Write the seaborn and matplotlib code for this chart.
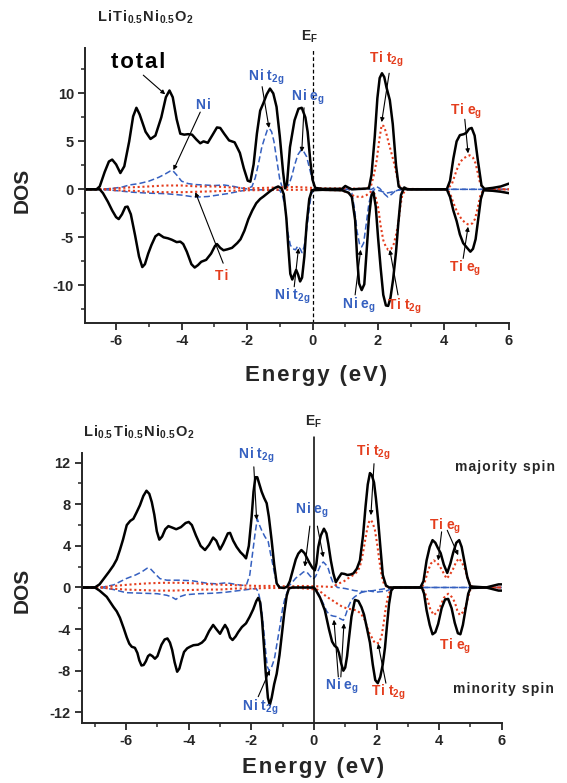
import matplotlib
matplotlib.use("Agg")
import matplotlib.pyplot as plt
from matplotlib.ticker import MultipleLocator
import pandas as pd
import seaborn as sns

# ---------------------------
# Data (energy in eV, DOS; minority spin negative)
# ---------------------------
# Panel (a): LiTi0.5Ni0.5O2
a_tot_up = [(-6.95, 0), (-6.6, 0), (-6.5, 0.3), (-6.35, 1.8), (-6.22, 2.9), (-6.12, 3.1), (-6.0, 2.6), (-5.87, 1.7),
            (-5.75, 2.4), (-5.6, 5.0), (-5.48, 7.6), (-5.38, 8.5), (-5.28, 7.8), (-5.1, 6.0), (-4.95, 5.25), (-4.8, 5.6),
            (-4.62, 7.5), (-4.48, 9.6), (-4.37, 10.3), (-4.27, 9.6), (-4.15, 7.3), (-4.04, 5.8), (-3.92, 5.7),
            (-3.8, 5.75), (-3.68, 5.7), (-3.55, 5.2), (-3.43, 4.8), (-3.33, 5.0), (-3.2, 4.85), (-3.05, 5.7),
            (-2.92, 6.45), (-2.82, 6.4), (-2.7, 5.8), (-2.55, 5.1), (-2.38, 4.9), (-2.22, 3.8), (-2.1, 2.2),
            (-1.98, 0.9), (-1.9, 0.8), (-1.8, 2.6), (-1.7, 5.8), (-1.6, 8.2), (-1.5, 9.0), (-1.4, 9.9), (-1.3, 10.5),
            (-1.2, 10.0), (-1.1, 8.6), (-1.0, 5.5), (-0.9, 1.8), (-0.84, 0.1), (-0.78, 0.6), (-0.69, 4.4),
            (-0.55, 7.2), (-0.43, 8.4), (-0.33, 8.5), (-0.22, 7.5), (-0.15, 6.0), (-0.07, 3.0), (0.0, 1.0),
            (0.08, 0.15), (0.3, 0.05), (0.9, 0.05), (1.0, 0.35), (1.08, 0.2), (1.2, 0.0), (1.72, 0.1), (1.8, 1.5),
            (1.9, 5.5), (1.98, 9.5), (2.05, 11.6), (2.12, 12.1), (2.19, 11.7), (2.26, 10.6), (2.36, 9.3),
            (2.45, 6.8), (2.55, 2.5), (2.63, 0.3), (2.72, 0.05), (3.0, 0.0), (4.1, 0.0), (4.2, 0.9), (4.3, 3.2),
            (4.4, 5.0), (4.5, 5.65), (4.62, 5.75), (4.7, 5.9), (4.78, 6.3), (4.86, 6.4), (4.95, 5.6), (5.05, 3.0),
            (5.16, 0.4), (5.25, 0.05), (5.5, 0.15), (5.75, 0.3), (6.0, 0.6)]
a_tot_dn = [(-6.95, 0), (-6.5, 0), (-6.4, -0.4), (-6.25, -1.3), (-6.12, -2.2), (-6.0, -2.9), (-5.92, -3.1),
            (-5.82, -2.6), (-5.72, -1.85), (-5.65, -1.8), (-5.55, -2.6), (-5.42, -4.8), (-5.3, -7.0), (-5.2, -8.1),
            (-5.12, -7.8), (-5.02, -6.7), (-4.92, -5.8), (-4.8, -4.9), (-4.7, -4.65), (-4.55, -5.0), (-4.42, -5.1),
            (-4.3, -5.25), (-4.15, -5.5), (-4.04, -5.45), (-3.95, -5.7), (-3.84, -6.5), (-3.7, -7.8), (-3.6, -8.15),
            (-3.5, -7.9), (-3.4, -7.55), (-3.25, -7.35), (-3.1, -6.7), (-2.98, -5.9), (-2.92, -5.7), (-2.82, -6.1),
            (-2.72, -6.35), (-2.6, -6.25), (-2.46, -6.1), (-2.3, -5.6), (-2.2, -5.2), (-2.08, -4.3), (-1.96, -3.1),
            (-1.84, -2.2), (-1.72, -1.45), (-1.6, -1.0), (-1.5, -0.75), (-1.3, -0.2), (-1.15, 0.15), (-1.05, 0.3),
            (-0.95, 0.1), (-0.88, -0.5), (-0.8, -3.0), (-0.74, -6.0), (-0.68, -8.8), (-0.62, -9.4), (-0.56, -8.9),
            (-0.5, -8.4), (-0.44, -8.9), (-0.38, -9.6), (-0.32, -9.2), (-0.25, -7.0), (-0.18, -3.6), (-0.1, -1.0),
            (-0.02, -0.1), (0.3, -0.05), (0.9, -0.1), (1.1, -0.35), (1.2, -0.8), (1.3, -3.2), (1.36, -7.0),
            (1.42, -9.8), (1.5, -10.5), (1.58, -9.9), (1.65, -6.5), (1.72, -3.0), (1.8, -0.6), (1.86, -0.3),
            (1.93, -1.8), (2.0, -5.0), (2.08, -8.2), (2.16, -11.0), (2.24, -12.1), (2.31, -12.15), (2.38, -11.3),
            (2.46, -9.4), (2.55, -6.5), (2.62, -3.5), (2.7, -0.6), (2.8, 0.2), (2.9, 0.0), (4.1, 0.0), (4.2, -0.8),
            (4.3, -2.2), (4.4, -3.3), (4.5, -4.7), (4.6, -5.6), (4.72, -6.1), (4.82, -6.5), (4.9, -6.2),
            (4.98, -5.2), (5.06, -3.1), (5.14, -1.0), (5.22, -0.1), (5.5, -0.15), (5.75, -0.25), (6.0, -0.4)]
a_ni_up = [(-6.95, 0), (-6.5, 0), (-6.1, 0.1), (-5.8, 0.25), (-5.6, 0.45), (-5.3, 0.6), (-5.0, 0.85), (-4.7, 1.25),
           (-4.5, 1.6), (-4.35, 1.9), (-4.27, 1.95), (-4.15, 1.5), (-4.0, 0.85), (-3.8, 0.6), (-3.6, 0.5),
           (-3.3, 0.45), (-3.0, 0.4), (-2.7, 0.45), (-2.4, 0.3), (-2.2, 0.15), (-2.0, 0.05), (-1.85, 0.3),
           (-1.75, 1.2), (-1.65, 2.7), (-1.55, 4.4), (-1.45, 5.5), (-1.38, 6.2), (-1.32, 6.35), (-1.25, 6.0),
           (-1.18, 5.0), (-1.09, 3.0), (-1.0, 1.0), (-0.92, 0.15), (-0.84, 0.0), (-0.72, 0.5), (-0.64, 1.3),
           (-0.55, 2.5), (-0.45, 3.6), (-0.35, 4.1), (-0.28, 4.0), (-0.18, 3.4), (-0.1, 2.3), (-0.02, 1.2),
           (0.08, 0.2), (0.2, 0.0), (1.8, 0.0), (1.95, 0.3), (2.05, 0.1), (2.2, -0.5), (2.3, -0.8), (2.42, -0.5),
           (2.55, -0.1), (2.7, 0.0), (6.0, 0.0)]
a_ni_dn = [(-6.95, 0), (-6.5, 0), (-6.1, -0.1), (-5.8, -0.2), (-5.5, -0.3), (-5.0, -0.4), (-4.5, -0.45), (-4.0, -0.6),
           (-3.7, -0.75), (-3.5, -0.8), (-3.2, -0.75), (-2.9, -0.6), (-2.6, -0.45), (-2.3, -0.25), (-2.0, -0.05),
           (-1.5, -0.05), (-1.0, -0.1), (-0.92, -0.6), (-0.84, -1.8), (-0.76, -4.4), (-0.68, -5.8), (-0.6, -6.2),
           (-0.52, -6.3), (-0.45, -5.9), (-0.38, -6.2), (-0.32, -6.6), (-0.26, -6.0), (-0.18, -4.2), (-0.1, -2.0),
           (-0.04, -0.5), (0.05, 0.0), (1.1, 0.0), (1.2, -0.4), (1.28, -2.0), (1.36, -4.4), (1.44, -5.8),
           (1.5, -6.0), (1.56, -5.6), (1.64, -3.6), (1.72, -1.5), (1.8, -0.3), (1.9, 0.0), (2.1, -0.2),
           (2.25, -0.4), (2.4, -0.3), (2.6, -0.1), (2.8, 0.0), (6.0, 0.0)]
a_ti_up = [(-6.95, 0), (-6.4, 0), (-6.0, 0.1), (-5.6, 0.2), (-5.0, 0.3), (-4.5, 0.4), (-4.0, 0.4), (-3.5, 0.3),
           (-3.0, 0.3), (-2.5, 0.2), (-2.0, 0.1), (-1.5, 0.15), (-1.0, 0.2), (-0.5, 0.25), (0.0, 0.15), (0.5, 0.1),
           (1.0, 0.1), (1.6, 0.05), (1.78, 0.3), (1.88, 1.6), (1.96, 3.05), (2.04, 5.2), (2.11, 6.7), (2.17, 6.6),
           (2.24, 6.0), (2.32, 4.9), (2.4, 3.9), (2.5, 2.6), (2.58, 1.3), (2.66, 0.3), (2.8, 0.05), (4.1, 0.0),
           (4.25, 0.5), (4.4, 2.0), (4.5, 2.8), (4.6, 3.2), (4.72, 3.45), (4.8, 3.55), (4.9, 3.3), (4.98, 2.7),
           (5.06, 1.5), (5.12, 0.6), (5.22, 0.05), (6.0, 0.0)]
a_ti_dn = [(-6.95, 0), (-6.4, 0), (-6.0, -0.1), (-5.5, -0.15), (-5.0, -0.25), (-4.5, -0.3), (-4.0, -0.3),
           (-3.5, -0.25), (-3.0, -0.2), (-2.5, -0.15), (-2.0, -0.1), (-1.0, -0.05), (0.0, -0.05), (0.9, -0.1),
           (1.1, -0.4), (1.3, -0.75), (1.5, -0.8), (1.65, -0.6), (1.8, -0.2), (1.9, -0.5), (2.0, -1.8), (2.08, -3.8),
           (2.16, -5.3), (2.24, -6.0), (2.31, -6.3), (2.4, -6.2), (2.48, -5.7), (2.56, -4.6), (2.62, -3.5),
           (2.68, -1.8), (2.74, -0.6), (2.85, 0.0), (4.1, 0.0), (4.2, -0.4), (4.3, -1.4), (4.42, -2.4),
           (4.55, -3.1), (4.68, -3.55), (4.78, -3.7), (4.88, -3.55), (4.96, -3.1), (5.04, -2.0), (5.12, -0.7),
           (5.22, -0.05), (6.0, 0.0)]

# Panel (b): Li0.5Ti0.5Ni0.5O2
b_tot_up = [(-7.42, 0), (-7.0, 0), (-6.85, 0.3), (-6.7, 0.9), (-6.55, 1.5), (-6.41, 2.1), (-6.3, 2.7), (-6.2, 3.6),
            (-6.1, 4.6), (-5.98, 6.0), (-5.87, 6.4), (-5.77, 6.6), (-5.67, 7.2), (-5.56, 7.9), (-5.45, 8.8),
            (-5.35, 9.3), (-5.26, 9.0), (-5.18, 8.2), (-5.1, 7.0), (-5.02, 5.4), (-4.94, 4.6), (-4.85, 4.9),
            (-4.75, 5.6), (-4.65, 5.9), (-4.52, 5.75), (-4.4, 5.6), (-4.25, 5.8), (-4.1, 6.2), (-4.0, 6.3),
            (-3.9, 6.0), (-3.77, 5.0), (-3.62, 4.0), (-3.48, 3.6), (-3.35, 4.1), (-3.22, 4.8), (-3.12, 4.5),
            (-3.0, 3.65), (-2.9, 4.2), (-2.75, 5.2), (-2.68, 5.25), (-2.58, 4.5), (-2.47, 3.9), (-2.35, 3.4),
            (-2.25, 3.1), (-2.17, 2.8), (-2.08, 4.0), (-1.99, 6.8), (-1.93, 9.2), (-1.87, 10.6), (-1.81, 10.6),
            (-1.74, 9.9), (-1.67, 9.2), (-1.59, 8.6), (-1.51, 8.1), (-1.44, 6.8), (-1.35, 4.5), (-1.27, 2.2),
            (-1.19, 0.4), (-1.1, 0.0), (-0.95, -0.05), (-0.85, 0.1), (-0.77, 0.6), (-0.68, 1.6), (-0.58, 2.7),
            (-0.5, 3.25), (-0.4, 3.6), (-0.3, 3.3), (-0.2, 2.7), (-0.13, 2.3), (-0.05, 1.9), (0.03, 1.65),
            (0.08, 2.3), (0.14, 3.9), (0.22, 5.0), (0.32, 5.65), (0.4, 5.2), (0.46, 4.2), (0.54, 2.6), (0.62, 1.35),
            (0.7, 0.5), (0.78, 0.9), (0.88, 1.35), (0.98, 1.3), (1.07, 1.2), (1.17, 1.25), (1.26, 1.35),
            (1.37, 1.8), (1.47, 2.6), (1.57, 5.0), (1.65, 7.8), (1.72, 9.9), (1.79, 11.0), (1.85, 10.8),
            (1.92, 10.1), (1.98, 8.6), (2.05, 6.5), (2.12, 4.0), (2.2, 1.2), (2.3, 0.2), (2.4, 0.0), (3.4, 0.0),
            (3.5, 0.6), (3.6, 2.6), (3.7, 3.9), (3.79, 4.55), (3.88, 4.3), (3.96, 3.8), (4.05, 3.3), (4.15, 2.2),
            (4.26, 1.4), (4.36, 2.3), (4.45, 3.35), (4.55, 4.3), (4.64, 4.55), (4.72, 3.9), (4.82, 2.3),
            (4.9, 1.0), (5.0, 0.1), (5.5, 0.0), (5.9, 0.3), (6.0, 0.3)]
b_tot_dn = [(-7.42, 0), (-7.0, 0), (-6.85, -0.3), (-6.62, -0.9), (-6.41, -1.85), (-6.3, -2.3), (-6.2, -2.9),
            (-6.08, -3.9), (-5.98, -4.8), (-5.9, -5.4), (-5.82, -5.7), (-5.72, -5.8), (-5.64, -6.3), (-5.58, -7.0),
            (-5.51, -7.5), (-5.44, -7.45), (-5.37, -7.1), (-5.3, -6.6), (-5.24, -6.45), (-5.16, -6.6),
            (-5.08, -6.85), (-5.0, -6.6), (-4.93, -6.0), (-4.87, -5.5), (-4.77, -5.0), (-4.68, -4.9), (-4.6, -5.3),
            (-4.53, -6.0), (-4.45, -7.2), (-4.37, -8.1), (-4.3, -7.8), (-4.22, -6.9), (-4.15, -6.2), (-4.05, -5.85),
            (-3.96, -5.7), (-3.85, -5.55), (-3.7, -5.5), (-3.58, -5.3), (-3.48, -5.0), (-3.35, -4.2), (-3.22, -3.6),
            (-3.12, -4.0), (-3.0, -4.45), (-2.92, -4.0), (-2.84, -3.6), (-2.76, -4.0), (-2.68, -4.8), (-2.6, -5.05),
            (-2.5, -4.7), (-2.42, -4.3), (-2.3, -3.8), (-2.17, -3.45), (-2.05, -2.8), (-1.94, -2.1), (-1.84, -1.3),
            (-1.78, -1.0), (-1.72, -1.4), (-1.66, -3.0), (-1.6, -5.5), (-1.54, -8.2), (-1.47, -10.6),
            (-1.41, -11.3), (-1.35, -10.6), (-1.27, -9.3), (-1.19, -8.3), (-1.1, -6.5), (-1.02, -4.4),
            (-0.95, -2.5), (-0.87, -0.8), (-0.8, -0.1), (-0.7, 0.0), (0.0, 0.0), (0.05, -0.2), (0.2, -1.0),
            (0.35, -2.2), (0.48, -4.0), (0.58, -5.2), (0.66, -5.6), (0.74, -5.8), (0.8, -6.3), (0.87, -7.3),
            (0.94, -8.0), (1.0, -7.7), (1.06, -6.6), (1.12, -4.9), (1.2, -2.8), (1.31, -1.2), (1.42, -1.3),
            (1.52, -1.9), (1.6, -2.6), (1.7, -4.0), (1.79, -5.3), (1.88, -7.4), (1.96, -8.9), (2.04, -9.2),
            (2.12, -8.6), (2.2, -7.4), (2.27, -5.8), (2.33, -3.8), (2.4, -1.6), (2.47, -0.3), (2.55, 0.0),
            (3.45, 0.0), (3.52, -0.6), (3.6, -2.2), (3.7, -3.6), (3.79, -4.5), (3.88, -4.3), (3.97, -3.5),
            (4.08, -2.0), (4.19, -1.15), (4.29, -1.1), (4.4, -2.0), (4.5, -3.4), (4.6, -4.4), (4.68, -4.5),
            (4.76, -3.6), (4.85, -2.0), (4.93, -0.6), (5.0, -0.05), (5.5, 0.0), (5.9, -0.3), (6.0, -0.3)]
b_ni_up = [(-7.42, 0), (-6.8, 0), (-6.4, 0.25), (-6.0, 0.85), (-5.7, 1.2), (-5.5, 1.5), (-5.33, 1.85), (-5.24, 1.85),
           (-5.1, 1.4), (-4.92, 0.85), (-4.7, 0.7), (-4.3, 0.7), (-3.9, 0.65), (-3.6, 0.5), (-3.4, 0.4),
           (-3.1, 0.35), (-2.8, 0.45), (-2.5, 0.3), (-2.3, 0.2), (-2.15, 0.3), (-2.05, 1.2), (-1.99, 2.6),
           (-1.93, 4.0), (-1.88, 5.2), (-1.81, 6.6), (-1.74, 6.0), (-1.67, 5.5), (-1.57, 4.9), (-1.46, 4.4),
           (-1.39, 3.3), (-1.32, 2.3), (-1.25, 1.2), (-1.19, 0.4), (-1.1, 0.0), (-0.85, 0.0), (-0.72, 0.4),
           (-0.58, 0.9), (-0.45, 1.2), (-0.33, 1.5), (-0.23, 1.5), (-0.12, 1.1), (-0.02, 0.8), (0.06, 1.1),
           (0.14, 1.65), (0.22, 2.2), (0.3, 2.45), (0.38, 2.2), (0.46, 1.8), (0.54, 1.0), (0.62, 0.4), (0.75, 0.0),
           (1.0, -0.1), (1.3, -0.3), (1.6, -0.4), (1.9, -0.3), (2.2, -0.15), (2.5, 0.0), (6.0, 0.0)]
b_ni_dn = [(-7.42, 0), (-6.8, 0), (-6.4, -0.2), (-6.0, -0.5), (-5.5, -0.55), (-5.0, -0.6), (-4.7, -0.75),
           (-4.55, -0.9), (-4.41, -1.15), (-4.3, -0.9), (-4.1, -0.7), (-3.7, -0.6), (-3.2, -0.55), (-2.8, -0.45),
           (-2.4, -0.3), (-2.0, -0.15), (-1.85, -0.1), (-1.78, -0.4), (-1.72, -1.2), (-1.67, -2.2), (-1.6, -4.2),
           (-1.54, -6.2), (-1.49, -7.6), (-1.43, -8.0), (-1.37, -7.8), (-1.3, -7.2), (-1.25, -6.65), (-1.17, -5.2),
           (-1.09, -3.8), (-1.0, -2.0), (-0.93, -1.1), (-0.85, -0.4), (-0.78, -0.1), (-0.5, 0.0), (0.0, -0.1),
           (0.15, -0.6), (0.3, -1.55), (0.41, -2.3), (0.51, -2.65), (0.62, -2.75), (0.72, -2.8), (0.84, -3.0),
           (0.94, -3.15), (1.02, -2.6), (1.1, -1.85), (1.2, -1.2), (1.3, -0.9), (1.5, -0.5), (1.7, -0.3),
           (2.0, -0.45), (2.3, -0.35), (2.5, -0.1), (2.7, 0.0), (6.0, 0.0)]
b_ti_up = [(-7.42, 0), (-6.9, 0), (-6.5, 0.1), (-6.2, 0.2), (-5.8, 0.3), (-5.3, 0.4), (-4.8, 0.45), (-4.3, 0.45),
           (-3.8, 0.4), (-3.3, 0.3), (-2.8, 0.25), (-2.3, 0.2), (-1.8, 0.15), (-1.3, 0.15), (-0.8, 0.1),
           (-0.3, 0.15), (0.2, 0.1), (0.6, 0.05), (0.8, 0.4), (0.94, 0.55), (1.1, 0.9), (1.26, 1.2), (1.38, 1.5),
           (1.47, 2.0), (1.56, 3.2), (1.64, 4.6), (1.7, 5.6), (1.76, 6.3), (1.82, 6.5), (1.88, 6.2), (1.95, 5.5),
           (2.02, 4.2), (2.09, 2.6), (2.16, 1.2), (2.24, 0.3), (2.35, 0.0), (3.45, 0.0), (3.55, 0.6), (3.65, 1.65),
           (3.74, 2.3), (3.83, 2.6), (3.93, 2.4), (4.03, 2.0), (4.14, 1.4), (4.24, 0.85), (4.34, 1.2), (4.45, 1.8),
           (4.55, 2.5), (4.64, 2.8), (4.73, 2.4), (4.82, 1.8), (4.91, 0.9), (5.0, 0.2), (5.1, 0.0), (6.0, 0.0)]
b_ti_dn = [(-7.42, 0), (-6.9, 0), (-6.5, -0.1), (-6.0, -0.2), (-5.5, -0.25), (-5.0, -0.3), (-4.5, -0.3),
           (-4.0, -0.25), (-3.5, -0.2), (-3.0, -0.2), (-2.5, -0.1), (-2.0, -0.1), (-1.5, -0.05), (-1.0, -0.05),
           (-0.5, -0.05), (0.1, -0.2), (0.25, -0.5), (0.41, -0.9), (0.57, -1.2), (0.72, -1.5), (0.88, -1.8),
           (1.04, -2.0), (1.2, -2.1), (1.36, -2.2), (1.5, -2.5), (1.63, -3.15), (1.74, -4.2), (1.84, -4.75),
           (1.92, -5.2), (2.0, -5.4), (2.08, -5.3), (2.16, -4.75), (2.23, -3.4), (2.3, -1.85), (2.37, -0.8),
           (2.45, -0.2), (2.55, 0.0), (3.45, 0.0), (3.55, -0.5), (3.64, -1.3), (3.72, -2.1), (3.83, -2.65),
           (3.93, -2.4), (4.03, -1.85), (4.15, -1.0), (4.29, -0.6), (4.4, -0.9), (4.5, -1.4), (4.58, -2.2),
           (4.66, -2.65), (4.75, -2.4), (4.85, -1.85), (4.93, -0.9), (5.0, -0.2), (5.1, 0.0), (6.0, 0.0)]

# orbital labels (letter-spaced mathtext)
NI_T2G = r"$\mathbf{N\hspace{0.08}i\hspace{0.3}t_{2\hspace{0.05}g}}$"
NI_EG = r"$\mathbf{N\hspace{0.08}i\hspace{0.3}e_{g}}$"
TI_T2G = r"$\mathbf{T\hspace{0.08}i\hspace{0.3}t_{2\hspace{0.05}g}}$"
TI_EG = r"$\mathbf{T\hspace{0.08}i\hspace{0.3}e_{g}}$"

# labels: (text, colour, x, y, arrows [(x0, y0, x1, y1)])
a_labels = [
    ("t\u200ao\u200at\u200aa\u200al", "k", -5.32, 13.2, [(-5.17, 11.9, -4.5, 9.9)]),
    ("N\u200ai", "blue", -3.34, 8.8, [(-3.43, 8.05, -4.25, 2.0)]),
    ("T\u200ai", "red", -2.79, -9.0, [(-2.73, -7.7, -3.58, -0.3)]),
    (NI_T2G, "blue", -1.40, 11.7, [(-1.54, 10.7, -1.33, 6.4)]),
    (NI_EG, "blue", -0.14, 9.6, [(-0.26, 8.5, -0.33, 3.9)]),
    (TI_T2G, "red", 2.26, 13.5, [(2.34, 12.1, 2.11, 7.0)]),
    (TI_EG, "red", 4.70, 8.1, [(4.65, 7.3, 4.75, 3.75)]),
    (NI_T2G, "blue", -0.63, -11.2, [(-0.56, -10.15, -0.43, -6.15)]),
    (NI_EG, "blue", 1.40, -12.05, [(1.30, -11.0, 1.47, -6.3)]),
    (TI_T2G, "red", 2.82, -12.15, [(2.61, -11.0, 2.36, -6.3)]),
    (TI_EG, "red", 4.65, -8.25, [(4.60, -7.2, 4.75, -3.9)]),
]
b_labels = [
    (NI_T2G, "blue", -1.83, 12.7, [(-1.92, 11.6, -1.83, 6.5)]),
    (NI_EG, "blue", -0.07, 7.45, [(-0.13, 5.9, -0.29, 2.0), (0.11, 5.9, 0.30, 2.9)]),
    (TI_T2G, "red", 1.89, 13.0, [(1.92, 11.9, 1.82, 6.95)]),
    (TI_EG, "red", 4.19, 5.85, [(4.08, 5.35, 3.97, 2.6), (4.26, 5.5, 4.61, 3.1)]),
    (NI_T2G, "blue", -1.73, -11.5, [(-1.78, -10.5, -1.41, -7.95)]),
    (NI_EG, "blue", 0.88, -9.5, [(0.78, -8.6, 0.64, -3.1), (0.86, -8.6, 0.96, -3.45)]),
    (TI_T2G, "red", 2.37, -10.05, [(2.30, -9.2, 2.05, -5.4)]),
    (TI_EG, "red", 4.50, -5.7, []),
]

# ---------------------------
# Style
# ---------------------------
sns.set_style("ticks")
plt.rcParams['font.family'] = ['Liberation Sans', 'DejaVu Sans']
plt.rcParams['font.weight'] = 'bold'
plt.rcParams['axes.unicode_minus'] = False
plt.rcParams['mathtext.fontset'] = 'custom'
plt.rcParams['mathtext.rm'] = 'Liberation Sans:bold'
plt.rcParams['mathtext.bf'] = 'Liberation Sans:bold'
plt.rcParams['mathtext.it'] = 'Liberation Sans:bold'

BLUE = "#3560c0"
RED = "#e43d1d"
colours = {"k": "black", "blue": BLUE, "red": RED}


def spaced(s):
    # imitate the letter spacing of the original figure
    return "\u200a".join(s)


def draw(ax, pts, color, ls, lw):
    df = pd.DataFrame(pts, columns=["E", "DOS"])
    sns.lineplot(data=df, x="E", y="DOS", ax=ax, color=color, linestyle=ls, lw=lw,
                 estimator=None, sort=False)


def style_axis(ax, xlim, ylim, ymaj, ymin):
    ax.set_xlim(*xlim)
    ax.set_ylim(*ylim)
    ax.xaxis.set_major_locator(MultipleLocator(2))
    ax.xaxis.set_minor_locator(MultipleLocator(1))
    ax.yaxis.set_major_locator(MultipleLocator(ymaj))
    ax.yaxis.set_minor_locator(MultipleLocator(ymin))
    ax.tick_params(which='major', direction='out', length=5, width=1.3, labelsize=10.5, pad=3)
    ax.tick_params(which='minor', direction='out', length=3, width=1.1)
    for s in ['top', 'right']:
        ax.spines[s].set_visible(False)
    for s in ['left', 'bottom']:
        ax.spines[s].set_linewidth(1.4)
    for lab in ax.get_xticklabels() + ax.get_yticklabels():
        lab.set_fontweight('bold')
    ax.set_xlabel("")
    ax.set_ylabel("")


def put_labels(ax, labels):
    for text, c, x, y, arrows in labels:
        size = 16 if text.startswith("t") else 10
        ax.text(x, y, text, color=colours[c], fontsize=size, fontweight='bold',
                ha='center', va='center', clip_on=False)
        for x0, y0, x1, y1 in arrows:
            ax.annotate("", xy=(x1, y1), xytext=(x0, y0),
                        arrowprops=dict(arrowstyle='-|>', color='black', lw=0.8,
                                        mutation_scale=6, shrinkA=0, shrinkB=0))


W, H = 567, 783
fig = plt.figure(figsize=(W / 100, H / 100), dpi=100)

# panel a
ax1 = fig.add_axes([85 / W, 1 - 322.7 / H, (509 - 85) / W, (322.7 - 48.3) / H])
for pts, c, ls, lw in [(a_ni_up, BLUE, (0, (4, 2)), 1.1), (a_ni_dn, BLUE, (0, (4, 2)), 1.1),
                       (a_ti_up, RED, (0, (1, 1.3)), 1.5), (a_ti_dn, RED, (0, (1, 1.3)), 1.5),
                       (a_tot_up, "black", "-", 1.8), (a_tot_dn, "black", "-", 1.8)]:
    draw(ax1, pts, c, ls, lw)
ax1.axvline(0, color='black', lw=0.9, ls=(0, (3, 2)))
style_axis(ax1, (-6.95, 6.0), (-13.9, 14.7), 5, 2.5)
put_labels(ax1, a_labels)
ax1.text(-0.08, 15.9, r"$\mathbf{E_{F}}$", fontsize=10, ha='center', va='center', clip_on=False)

# panel b
ax2 = fig.add_axes([81.7 / W, 1 - 722.7 / H, (501.7 - 81.7) / W, (722.7 - 453.3) / H])
for pts, c, ls, lw in [(b_ni_up, BLUE, (0, (4, 2)), 1.1), (b_ni_dn, BLUE, (0, (4, 2)), 1.1),
                       (b_ti_up, RED, (0, (1, 1.3)), 1.5), (b_ti_dn, RED, (0, (1, 1.3)), 1.5),
                       (b_tot_up, "black", "-", 1.8), (b_tot_dn, "black", "-", 1.8)]:
    draw(ax2, pts, c, ls, lw)
ax2.axvline(0, ymin=0, ymax=1.06, color='black', lw=1.1, clip_on=False)
style_axis(ax2, (-7.42, 6.0), (-13.0, 12.9), 4, 2)
put_labels(ax2, b_labels)
ax2.text(-0.02, 15.9, r"$\mathbf{E_{F}}$", fontsize=10, ha='center', va='center', clip_on=False)
ax2.text(6.1, 11.6, spaced("majority spin"), fontsize=10, ha='center', va='center', clip_on=False)
ax2.text(6.07, -9.8, spaced("minority spin"), fontsize=10, ha='center', va='center', clip_on=False)

# titles and axis labels
fig.text(97 / W, 1 - 22 / H,
         r"$\mathbf{L\hspace{0.1}i\hspace{0.1}T\hspace{0.1}i_{0.5}\hspace{0.1}N\hspace{0.1}i_{0.5}\hspace{0.1}O_{2}}$",
         fontsize=10.5, ha='left', va='baseline')
fig.text(83 / W, 1 - 436.7 / H,
         r"$\mathbf{L\hspace{0.1}i_{0.5}\hspace{0.1}T\hspace{0.1}i_{0.5}\hspace{0.1}N\hspace{0.1}i_{0.5}\hspace{0.1}O_{2}}$",
         fontsize=10.5, ha='left', va='baseline')
fig.text(22 / W, 1 - 190 / H, "DOS", fontsize=15, rotation=90, ha='center', va='center')
fig.text(22 / W, 1 - 590 / H, "DOS", fontsize=15, rotation=90, ha='center', va='center')
fig.text(316 / W, 1 - 376 / H, spaced("Energy (eV)"), fontsize=16, ha='center', va='center')
fig.text(313 / W, 1 - 768 / H, spaced("Energy (eV)"), fontsize=16, ha='center', va='center')

fig.savefig("out.png", dpi=100)
